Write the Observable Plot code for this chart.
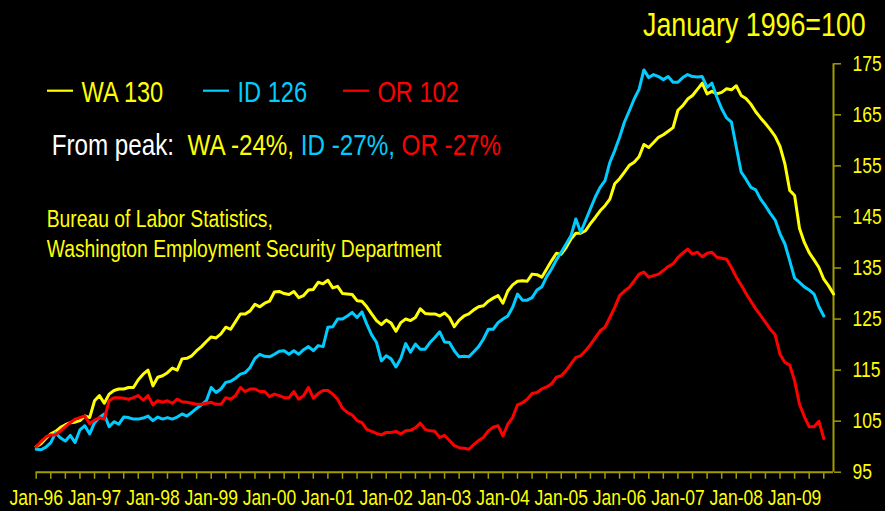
<!DOCTYPE html>
<html>
<head>
<meta charset="utf-8">
<script src="https://cdn.jsdelivr.net/npm/d3@7"></script>
<script src="https://cdn.jsdelivr.net/npm/@observablehq/plot@0.6"></script>
<style>
  html, body { margin: 0; padding: 0; background: #000; }
  #chart { width: 885px; height: 511px; }
</style>
</head>
<body>
<div id="chart"></div>
<script>
// ---- data (monthly index, January 1996 = 100) ----
const yearLabels = ["Jan-96","Jan-97","Jan-98","Jan-99","Jan-00","Jan-01","Jan-02",
                    "Jan-03","Jan-04","Jan-05","Jan-06","Jan-07","Jan-08","Jan-09"];
const yTicks = [95, 105, 115, 125, 135, 145, 155, 165, 175];

const waValues = [
100.0,100.6,101.6,102.5,103.0,103.8,104.3,104.7,104.8,105.1,
106.0,105.7,109.0,110.0,108.5,110.3,111.0,111.3,111.3,111.6,
111.6,113.1,114.2,115.0,111.9,113.6,113.9,114.5,115.4,115.0,
117.2,117.3,117.8,118.8,119.6,120.6,121.5,121.3,122.1,123.4,
123.0,124.5,126.0,126.0,126.6,127.9,127.4,128.1,128.5,130.3,
130.4,130.0,129.8,130.4,129.2,129.6,130.7,130.8,132.2,131.9,
132.6,131.1,131.4,130.0,129.9,129.8,128.6,128.5,127.4,126.0,
124.7,123.9,124.8,124.2,122.6,124.3,125.0,124.7,125.3,127.0,
126.1,126.0,126.0,125.6,126.2,125.3,123.5,124.8,125.6,126.0,
126.8,127.4,127.6,128.5,129.1,129.6,128.1,130.5,131.7,132.4,
132.5,132.4,133.8,133.7,133.2,134.8,136.4,137.9,137.7,139.0,
140.7,141.8,141.8,142.3,143.7,144.9,146.2,147.2,148.5,151.5,
152.5,153.8,155.1,155.7,156.8,159.2,158.6,159.6,160.6,161.1,
161.8,162.5,165.9,166.8,168.1,168.8,170.0,171.2,169.1,169.6,
169.1,169.4,170.1,169.9,170.7,168.8,168.2,167.1,165.6,164.4,
163.3,162.1,160.8,158.8,155.4,150.2,149.2,142.8,140.0,138.0,
136.6,135.1,132.8,131.5,129.9];

const idValues = [
99.5,99.4,99.9,100.8,102.7,101.7,101.1,102.2,100.8,103.3,
104.1,102.5,104.7,105.7,106.4,103.9,104.9,104.4,105.8,105.7,
105.4,105.4,105.6,106.0,105.1,105.8,105.4,105.7,105.4,105.8,
106.4,106.0,106.7,107.5,108.2,109.0,111.6,110.6,111.3,112.6,
112.8,113.4,114.2,114.5,115.5,117.3,118.1,117.7,117.6,118.1,
118.7,118.8,118.1,118.8,118.1,119.0,119.6,118.8,119.8,119.6,
123.4,123.5,125.0,125.0,125.6,126.3,125.3,126.4,124.0,121.9,
120.4,116.8,117.8,117.2,115.6,117.3,120.2,118.5,120.1,119.1,
119.1,120.4,121.4,122.5,120.5,120.4,118.8,117.6,117.7,117.6,
118.6,119.6,121.1,123.0,123.0,124.3,125.0,125.6,127.3,129.9,
128.7,128.7,129.2,130.7,131.3,133.3,134.8,136.6,138.1,139.7,
141.3,144.6,142.0,144.3,146.6,148.9,150.8,152.1,155.7,158.0,
160.6,163.6,165.8,168.1,170.0,173.8,172.3,172.9,172.5,171.9,
172.5,171.4,171.4,172.3,172.9,172.5,172.4,172.5,170.4,171.2,
168.5,166.2,164.4,163.6,158.7,153.8,152.4,150.8,150.3,148.5,
147.2,145.7,144.4,141.7,139.7,136.4,133.0,132.2,131.3,130.7,
129.9,127.4,125.6];

const orValues = [
100.0,101.0,101.9,102.3,102.3,103.1,103.9,104.7,105.4,105.7,
106.0,104.5,105.2,105.7,105.4,109.0,109.6,109.6,109.5,109.3,
109.6,110.0,109.1,110.0,108.2,109.0,108.7,109.0,108.5,109.3,
108.8,108.7,108.5,108.3,108.3,108.5,108.7,108.3,108.3,109.6,
109.3,110.0,111.6,110.8,111.3,111.3,110.8,110.8,109.8,110.3,
110.0,109.6,109.6,110.8,109.3,110.0,111.6,109.5,110.4,111.0,
111.0,110.3,109.3,107.5,106.7,106.2,105.1,104.7,103.4,103.0,
102.6,102.3,102.8,102.8,103.0,102.5,103.1,103.2,103.7,104.6,
103.4,103.1,103.0,101.8,102.2,101.2,100.2,99.8,99.7,99.5,
100.4,101.2,101.8,103.1,103.8,104.1,102.1,104.4,105.7,108.2,
108.6,109.3,110.4,110.6,111.3,111.7,112.3,113.6,113.9,114.9,
116.2,117.5,117.8,118.8,120.0,121.3,122.7,123.4,125.3,127.3,
129.6,130.5,131.2,132.5,133.8,134.2,133.2,133.5,133.8,134.5,
135.3,135.8,137.1,137.9,138.7,137.7,138.1,137.2,137.9,138.1,
137.1,136.9,136.7,135.1,133.2,131.7,130.0,128.5,127.0,125.7,
124.4,123.0,121.9,118.1,116.5,116.0,112.9,108.3,105.9,103.9,
103.9,105.0,101.6];

const seriesNames = ["WA", "ID", "OR"];
const seriesColors = ["#ffff00", "#00ccff", "#ff0000"];
const latestLabels = ["WA 130", "ID 126", "OR 102"];
const peakDrops = ["WA -24%,", "ID -27%,", "OR -27%"];
const titleText = "January 1996=100";
const sourceLines = ["Bureau of Labor Statistics,", "Washington Employment Security Department"];

// ---- styling ----
const AXIS = "#a39c00";
const TXT = "#ffff00";
const STRETCH = 1.25;
const FONT = "'Liberation Sans', Arial, Helvetica, sans-serif";
const lastMonth = waValues.length - 1;

const chart = Plot.plot({
  width: 885,
  height: 511,
  marginLeft: 35.7,
  marginRight: 52,
  marginTop: 63.3,
  marginBottom: 39.3,
  style: { background: "#000", color: TXT, fontFamily: FONT, fontSize: "17px" },
  x: { type: "linear", domain: [0, lastMonth], label: null },
  y: { domain: [95, 175], label: null },
  marks: [
    Plot.ruleY([95], { stroke: AXIS, strokeWidth: 2 }),
    Plot.ruleX([lastMonth], { y1: 95, y2: 175, stroke: AXIS, strokeWidth: 2 }),
    Plot.axisY({ anchor: "right", ticks: yTicks, tickSize: 7, tickPadding: 12,
      stroke: AXIS, strokeWidth: 1.5, fill: TXT, fontSize: 17.5, label: null,
      tickFormat: d => String(d) }),
    Plot.axisX({ anchor: "bottom", ticks: d3.range(0, lastMonth, 3), tickSize: 7, tickPadding: 10,
      stroke: AXIS, strokeWidth: 1.5, fill: TXT, fontSize: 17.5, label: null,
      tickFormat: d => (d % 12 === 0 ? yearLabels[d / 12] : "") }),
    Plot.lineY(waValues, { stroke: seriesColors[0], strokeWidth: 3 }),
    Plot.lineY(idValues, { stroke: seriesColors[1], strokeWidth: 3 }),
    Plot.lineY(orValues, { stroke: seriesColors[2], strokeWidth: 3 })
  ]
});

// stretch text vertically like the original (tall, narrow lettering)
chart.querySelectorAll("text").forEach(t => {
  const tr = t.getAttribute("transform") || "";
  t.setAttribute("transform", `${tr} scale(1,${STRETCH})`);
});

const svg = d3.select(chart);
function addText(x, y, size, fill, str, anchor = "start") {
  return svg.append("text")
    .attr("transform", `translate(${x},${y}) scale(1,${STRETCH})`)
    .attr("font-family", FONT).attr("font-size", size)
    .attr("fill", fill).attr("text-anchor", anchor)
    .style("white-space", "pre").attr("xml:space", "preserve")
    .text(str);
}

// title
addText(643, 36, 26.8, TXT, titleText);

// legend: latest values
const legendX = [47, 203, 343];
seriesNames.forEach((s, i) => {
  svg.append("line").attr("x1", legendX[i]).attr("x2", legendX[i] + 26)
    .attr("y1", 90.7).attr("y2", 90.7)
    .attr("stroke", seriesColors[i]).attr("stroke-width", 2.2);
  addText(legendX[i] + 34.5, 101.7, 23.6, seriesColors[i], latestLabels[i]);
});

// from-peak line
const fp = addText(51.7, 155, 24.2, "#ffffff", "From peak:  ");
peakDrops.forEach((p, i) => {
  fp.append("tspan").attr("fill", seriesColors[i]).text((i ? " " : "") + p);
});

// source
addText(46.7, 226.7, 19.3, TXT, sourceLines[0]);
addText(46.7, 256.7, 19.3, TXT, sourceLines[1]);

document.getElementById("chart").appendChild(chart);
</script>
</body>
</html>
